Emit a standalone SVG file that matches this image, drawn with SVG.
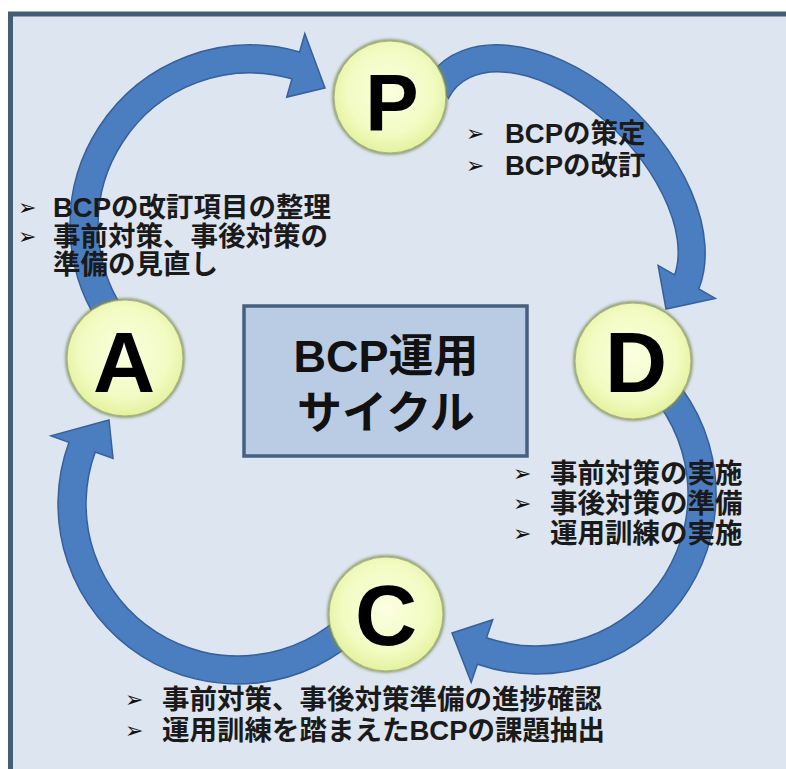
<svg xmlns="http://www.w3.org/2000/svg" width="786" height="769" viewBox="0 0 786 769">
<defs>
<radialGradient id="nodeFill" cx="50%" cy="45%" r="55%">
<stop offset="0" stop-color="#fbffe0"/>
<stop offset="0.7" stop-color="#f2fbc2"/>
<stop offset="1" stop-color="#e4f29e"/>
</radialGradient>
<filter id="fuzz" x="-20%" y="-20%" width="140%" height="140%">
<feGaussianBlur stdDeviation="1.6"/>
</filter>
<style>
.arrow{fill:#4a7ec0;stroke:#36609a;stroke-width:1.5;stroke-linejoin:miter}
.ring{fill:none;stroke:#7d8a55;stroke-width:3;filter:url(#fuzz)}
.node{fill:url(#nodeFill);stroke:#a7b37a;stroke-width:1}
.big{font-family:"Liberation Sans","Noto Sans CJK JP",sans-serif;font-weight:bold;fill:#000;text-anchor:middle}
.lbl{font-family:"Liberation Sans","Noto Sans CJK JP",sans-serif;font-weight:bold;font-size:27.5px;fill:#1a1a1a}
.bul{font-family:"DejaVu Sans",sans-serif;font-size:22px;fill:#111}
.ctr{font-family:"Liberation Sans","Noto Sans CJK JP",sans-serif;font-weight:bold;font-size:45px;fill:#111;text-anchor:middle}
</style>
</defs>
<rect x="0" y="0" width="786" height="769" fill="#ffffff"/>
<rect x="10.5" y="14" width="800" height="800" fill="#dce5f0" stroke="#465d78" stroke-width="5"/>

<g id="connectors">
<path class="arrow" d="M 430.7 74.2 A 174 109 45 0 1 698.8 288.9 L 715.3 298.4 L 666 309 L 658.1 265.4 L 674.6 274.9 A 146 81 45 0 0 448.4 98.3 Z"/>
<path class="arrow" d="M 663.3 366.7 A 180 180 0 0 1 477.4 664.2 L 471.2 682.2 L 452 633 L 492.7 619.8 L 486.5 637.7 A 152 152 0 0 0 643.5 386.5 Z"/>
<path class="arrow" d="M 365.3 631.3 A 180 180 0 0 1 68.9 442.4 L 51 435.9 L 109 420 L 113 458.5 L 95.2 452 A 152 152 0 0 0 345.5 611.5 Z"/>
<path class="arrow" d="M 112.1 340.7 A 180 180 0 0 1 299.6 52 L 304.8 33.7 L 325 88 L 286.7 97.1 L 291.9 78.9 A 152 152 0 0 0 133.6 322.7 Z"/>
</g>

<g id="center">
<rect x="244" y="306" width="283" height="150" fill="#b9cce4" stroke="#46607f" stroke-width="3.5"/>
<text class="ctr" x="386" y="372">BCP運用</text>
<text class="ctr" x="386" y="429">サイクル</text>
</g>

<g id="node-P">
<circle class="ring" cx="390" cy="97" r="56"/>
<circle class="node" cx="390" cy="97" r="56"/>
<text class="big" x="392" y="130" font-size="80">P</text>
</g>
<g id="node-D">
<circle class="ring" cx="633" cy="361" r="58"/>
<circle class="node" cx="633" cy="361" r="58"/>
<text class="big" x="636" y="392" font-size="86">D</text>
</g>
<g id="node-C">
<circle class="ring" cx="386" cy="614" r="57"/>
<circle class="node" cx="386" cy="614" r="57"/>
<text class="big" x="386" y="645" font-size="86">C</text>
</g>
<g id="node-A">
<circle class="ring" cx="125" cy="358" r="58"/>
<circle class="node" cx="125" cy="358" r="58"/>
<text class="big" x="124" y="392" font-size="86">A</text>
</g>

<g id="label-P">
<text class="bul" x="466" y="141">➢</text>
<text class="lbl" x="505" y="143">BCPの策定</text>
<text class="bul" x="466" y="173">➢</text>
<text class="lbl" x="505" y="175">BCPの改訂</text>
</g>
<g id="label-A">
<text class="bul" x="18" y="215">➢</text>
<text class="lbl" x="53" y="217">BCPの改訂項目の整理</text>
<text class="bul" x="18" y="244">➢</text>
<text class="lbl" x="53" y="246">事前対策、事後対策の</text>
<text class="lbl" x="53" y="274">準備の見直し</text>
</g>
<g id="label-D">
<text class="bul" x="513" y="481">➢</text>
<text class="lbl" x="550" y="483">事前対策の実施</text>
<text class="bul" x="513" y="511">➢</text>
<text class="lbl" x="550" y="513">事後対策の準備</text>
<text class="bul" x="513" y="541">➢</text>
<text class="lbl" x="550" y="543">運用訓練の実施</text>
</g>
<g id="label-C">
<text class="bul" x="125" y="707">➢</text>
<text class="lbl" x="162" y="709">事前対策、事後対策準備の進捗確認</text>
<text class="bul" x="125" y="738">➢</text>
<text class="lbl" x="162" y="740">運用訓練を踏まえたBCPの課題抽出</text>
</g>
</svg>
